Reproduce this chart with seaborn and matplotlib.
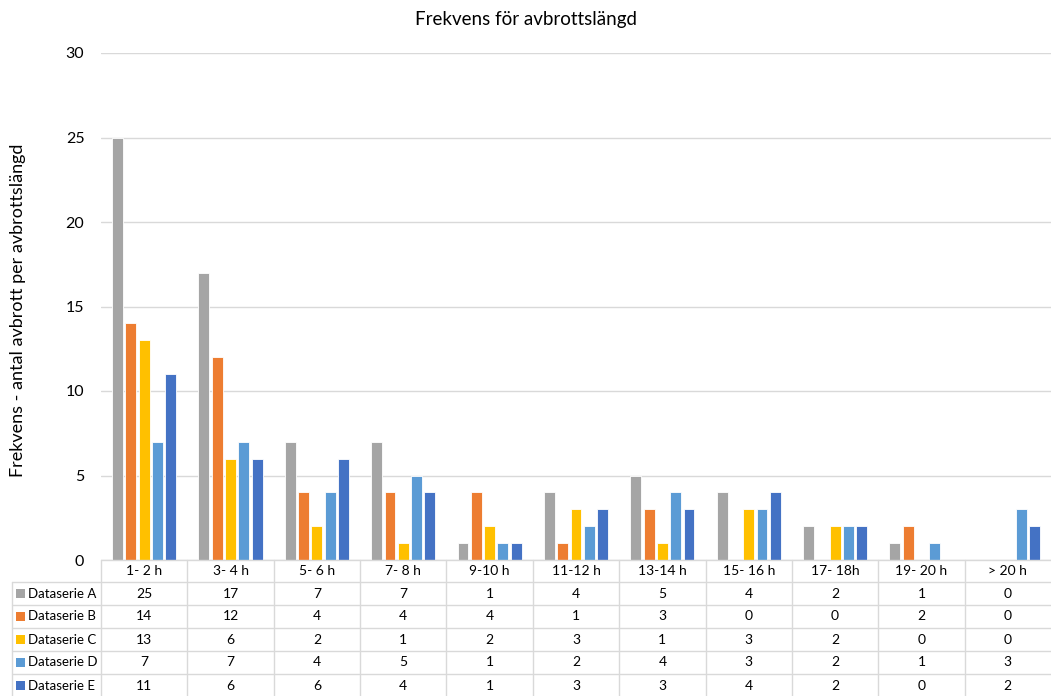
import matplotlib
matplotlib.use("Agg")
import matplotlib.pyplot as plt
import matplotlib.transforms as mtransforms
from matplotlib.lines import Line2D
from matplotlib.patches import Rectangle
import seaborn as sns
import pandas as pd

categories = ["1- 2 h", "3- 4 h", "5- 6 h", "7- 8 h", "9-10 h", "11-12 h",
              "13-14 h", "15- 16 h", "17- 18h", "19- 20 h", "> 20 h"]
series_names = ["Dataserie A", "Dataserie B", "Dataserie C", "Dataserie D", "Dataserie E"]
serie_a = [25, 17, 7, 7, 1, 4, 5, 4, 2, 1, 0]
serie_b = [14, 12, 4, 4, 4, 1, 3, 0, 0, 2, 0]
serie_c = [13, 6, 2, 1, 2, 3, 1, 3, 2, 0, 0]
serie_d = [7, 7, 4, 5, 1, 2, 4, 3, 2, 1, 3]
serie_e = [11, 6, 6, 4, 1, 3, 3, 4, 2, 0, 2]
colors = ["#A5A5A5", "#ED7D31", "#FFC000", "#5B9BD5", "#4472C4"]
title = "Frekvens för avbrottslängd"
ylabel = "Frekvens - antal avbrott per avbrottslängd"

all_series = [serie_a, serie_b, serie_c, serie_d, serie_e]
rows = []
for name, vals in zip(series_names, all_series):
    for cat, v in zip(categories, vals):
        rows.append({"kategori": cat, "serie": name, "värde": v})
df = pd.DataFrame(rows)

sns.set_theme(style="white")
plt.rcParams["font.family"] = ["Lato", "DejaVu Sans"]
text_color = "#000000"
grid_color = "#D9D9D9"

W, H = 1051, 696
fig = plt.figure(figsize=(W / 100, H / 100), dpi=100)
ax_left, ax_right = 101 / W, 1051 / W
ax_bottom, ax_top = (H - 560) / H, (H - 53) / H
ax = fig.add_axes([ax_left, ax_bottom, ax_right - ax_left, ax_top - ax_bottom])

sns.barplot(data=df, x="kategori", y="värde", hue="serie", order=categories,
            hue_order=series_names, palette=colors, saturation=1, width=0.77, gap=0.18,
            edgecolor="white", linewidth=0.6, legend=False, ax=ax)

ax.set_xlim(-0.5, len(categories) - 0.5)
ax.set_ylim(0, 30)
ax.set_yticks([0, 5, 10, 15, 20, 25, 30])
ax.yaxis.grid(True, color=grid_color, linewidth=1)
ax.set_axisbelow(True)
for s in ax.spines.values():
    s.set_visible(False)
ax.tick_params(axis="y", length=0, labelsize=11.5, pad=12, colors=text_color)
ax.tick_params(axis="x", length=0, labelbottom=False)
ax.set_xlabel("")
ax.set_ylabel("")
fig.text(18 / W, (H - 310) / H, ylabel, rotation=90, ha="center", va="center",
         fontsize=13, color=text_color)
fig.text(526 / W, (H - 20) / H, title, ha="center", va="center",
         fontsize=13.5, color=text_color)

# data table
trans = mtransforms.blended_transform_factory(ax.transData, fig.transFigure)
ftrans = fig.transFigure
def fy(py):
    return (H - py) / H

row_edges = [560, 582, 605, 628, 651, 674, 697]
n = len(categories)
lw = 1.0
for i, py in enumerate(row_edges[:-1]):
    x0 = 12 / W if i >= 1 else ax_left
    fig.add_artist(Line2D([x0, 1.0], [fy(py), fy(py)], color=grid_color, lw=lw, transform=ftrans))
fig.add_artist(Line2D([12 / W, 12 / W], [fy(582), 0], color=grid_color, lw=lw, transform=ftrans))
for k in range(n):
    xb = k - 0.5
    fig.add_artist(Line2D([xb, xb], [fy(560), 0], color=grid_color, lw=lw, transform=trans, clip_on=False))

for k, cat in enumerate(categories):
    fig.text(k, fy(571), cat, transform=trans, ha="center", va="center",
             fontsize=10, color=text_color)
for r, (name, vals, col) in enumerate(zip(series_names, all_series, colors)):
    yc = (row_edges[r + 1] + row_edges[r + 2]) / 2
    fig.add_artist(Rectangle((16 / W, fy(yc + 4.5)), 9 / W, 9 / H, facecolor=col,
                             edgecolor="none", transform=ftrans))
    fig.text(28 / W, fy(yc), name, transform=ftrans, ha="left", va="center",
             fontsize=9.5, color=text_color)
    for k, v in enumerate(vals):
        fig.text(k, fy(yc), str(v), transform=trans, ha="center", va="center",
                 fontsize=10, color=text_color)

fig.savefig("out.png", dpi=100, facecolor="white")
